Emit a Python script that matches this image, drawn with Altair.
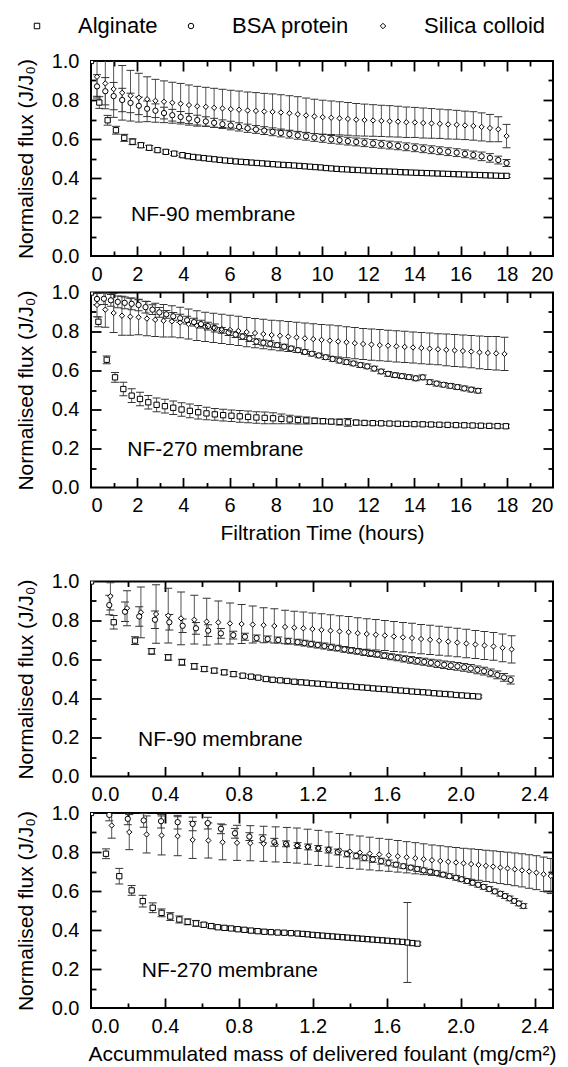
import altair as alt
import pandas as pd

FONT = "Liberation Sans"
W, H = 462, 195

SERIES = ["Alginate", "BSA protein", "Silica colloid"]
SHAPES = ["square", "circle", "diamond"]
MSIZE = 28

TIME_MAJOR = [0, 2, 4, 6, 8, 10, 12, 14, 16, 18, 20]
TIME_TICKS = [1, 2, 3, 4, 5, 6, 7, 8, 9, 10, 11, 12, 13, 14, 15, 16, 17, 18, 19]
MASS_MAJOR = [0.0, 0.4, 0.8, 1.2, 1.6, 2.0, 2.4]
MASS_TICKS = [0.2, 0.4, 0.6, 0.8, 1.0, 1.2, 1.4, 1.6, 1.8, 2.0, 2.2, 2.4]
Y_MAJOR = [0.0, 0.2, 0.4, 0.6, 0.8, 1.0]
Y_TICKS = [0.1, 0.2, 0.3, 0.4, 0.5, 0.6, 0.7, 0.8, 0.9]

ann_text = ["NF-90 membrane", "NF-270 membrane", "NF-90 membrane", "NF-270 membrane"]
ann_x = [1.73, 1.57, 0.255, 0.275]
ann_y = [0.21, 0.19, 0.185, 0.19]

# ---------------- Panel 1: NF-90, filtration time ----------------
p1_alg_x = [0, 0.36, 0.72, 1.08, 1.44, 1.80, 2.16, 2.52, 2.88, 3.24, 3.60, 3.96,
            4.19, 4.42, 4.65, 4.88, 5.11, 5.34, 5.57, 5.80, 6.03, 6.26,
            6.49, 6.72, 6.95, 7.18, 7.41, 7.64, 7.87, 8.10, 8.33, 8.56,
            8.79, 9.02, 9.25, 9.48, 9.71, 9.94, 10.17, 10.40, 10.63, 10.86,
            11.09, 11.32, 11.55, 11.78, 12.01, 12.24, 12.47, 12.70, 12.93, 13.16,
            13.39, 13.62, 13.85, 14.08, 14.31, 14.54, 14.77, 15.00, 15.23, 15.46,
            15.69, 15.92, 16.15, 16.38, 16.61, 16.84, 17.07, 17.30, 17.53, 17.76,
            17.99]
p1_alg_y = [1.0, 0.787, 0.696, 0.645, 0.606, 0.586, 0.568, 0.555, 0.543, 0.534, 0.525, 0.517,
            0.512, 0.508, 0.505, 0.502, 0.499, 0.496, 0.493, 0.490, 0.488, 0.485,
            0.483, 0.481, 0.479, 0.477, 0.475, 0.473, 0.471, 0.469, 0.467, 0.466,
            0.464, 0.462, 0.460, 0.458, 0.456, 0.454, 0.451, 0.449, 0.447, 0.445,
            0.444, 0.442, 0.441, 0.439, 0.438, 0.436, 0.435, 0.434, 0.433, 0.432,
            0.430, 0.429, 0.428, 0.427, 0.426, 0.425, 0.424, 0.423, 0.422, 0.421,
            0.420, 0.419, 0.418, 0.417, 0.416, 0.415, 0.414, 0.413, 0.412, 0.411,
            0.411]
p1_alg_e = [0.0, 0.03, 0.025, 0.02, 0.018, 0.015, 0.012, 0.012, 0.01, 0.01, 0.01, 0.01,
            0.009, 0.009, 0.009, 0.009, 0.009, 0.008, 0.008, 0.008, 0.008, 0.008,
            0.008, 0.008, 0.008, 0.008, 0.008, 0.008, 0.008, 0.008, 0.008, 0.008,
            0.008, 0.008, 0.008, 0.008, 0.008, 0.008, 0.008, 0.008, 0.008, 0.008,
            0.008, 0.008, 0.008, 0.008, 0.008, 0.008, 0.008, 0.008, 0.008, 0.008,
            0.008, 0.008, 0.008, 0.008, 0.008, 0.008, 0.008, 0.008, 0.008, 0.008,
            0.008, 0.008, 0.008, 0.008, 0.008, 0.008, 0.008, 0.008, 0.008, 0.008,
            0.008]

p1_grid = [0.26, 0.62, 0.98, 1.35, 1.71, 2.07, 2.43, 2.79, 3.16, 3.52,
           3.88, 4.24, 4.60, 4.97, 5.33, 5.69, 6.05, 6.41, 6.78, 7.14,
           7.50, 7.86, 8.22, 8.59, 8.95, 9.31, 9.67, 10.03, 10.40, 10.76,
           11.12, 11.48, 11.84, 12.21, 12.57, 12.93, 13.29, 13.65, 14.02, 14.38,
           14.74, 15.10, 15.46, 15.83, 16.19, 16.55, 16.91, 17.27, 17.63, 17.99]
p1_bsa_y = [0.870, 0.845, 0.820, 0.800, 0.785, 0.770, 0.755, 0.745, 0.733, 0.722,
            0.713, 0.705, 0.697, 0.690, 0.683, 0.676, 0.669, 0.662, 0.655, 0.649,
            0.643, 0.637, 0.631, 0.625, 0.619, 0.614, 0.608, 0.603, 0.598, 0.594,
            0.589, 0.585, 0.581, 0.577, 0.573, 0.569, 0.565, 0.560, 0.555, 0.550,
            0.545, 0.540, 0.535, 0.530, 0.524, 0.518, 0.511, 0.503, 0.492, 0.477]
p1_bsa_e = [0.06, 0.07, 0.07, 0.06, 0.05, 0.045, 0.04, 0.035, 0.03, 0.03,
            0.028, 0.026, 0.025, 0.024, 0.023, 0.022, 0.022, 0.021, 0.021, 0.02,
            0.02, 0.02, 0.02, 0.02, 0.02, 0.02, 0.02, 0.02, 0.02, 0.02,
            0.02, 0.02, 0.02, 0.02, 0.02, 0.02, 0.02, 0.02, 0.02, 0.02,
            0.02, 0.02, 0.02, 0.02, 0.02, 0.02, 0.022, 0.022, 0.02, 0.018]
p1_sil_y = [0.919, 0.885, 0.856, 0.837, 0.822, 0.812, 0.804, 0.796, 0.791, 0.786,
            0.781, 0.774, 0.768, 0.765, 0.760, 0.757, 0.753, 0.750, 0.746, 0.744,
            0.741, 0.739, 0.736, 0.732, 0.727, 0.721, 0.716, 0.712, 0.709, 0.706,
            0.703, 0.699, 0.697, 0.695, 0.693, 0.691, 0.689, 0.686, 0.685, 0.682,
            0.680, 0.678, 0.675, 0.673, 0.670, 0.667, 0.662, 0.656, 0.650, 0.615]
p1_sil_e = [0.10, 0.13, 0.145, 0.14, 0.13, 0.125, 0.115, 0.11, 0.107, 0.105,
            0.104, 0.103, 0.102, 0.10, 0.10, 0.098, 0.097, 0.096, 0.095, 0.094,
            0.093, 0.092, 0.091, 0.09, 0.09, 0.089, 0.088, 0.087, 0.086, 0.085,
            0.084, 0.083, 0.082, 0.081, 0.08, 0.08, 0.079, 0.078, 0.077, 0.077,
            0.076, 0.075, 0.075, 0.074, 0.073, 0.073, 0.072, 0.07, 0.064, 0.06]

# ---------------- Panel 2: NF-270, filtration time ----------------
p2_alg_x = [0, 0.32, 0.68, 1.04, 1.40, 1.76, 2.12, 2.48, 2.84, 3.20, 3.56,
            3.92, 4.28, 4.64, 5.00, 5.36, 5.72, 6.08, 6.44, 6.80, 7.16,
            7.52, 7.88, 8.24, 8.60, 8.96, 9.32, 9.68, 10.04, 10.40, 10.76,
            11.12, 11.48, 11.84, 12.20, 12.56, 12.92, 13.28, 13.64, 14.00, 14.36,
            14.72, 15.08, 15.44, 15.80, 16.16, 16.52, 16.88, 17.24, 17.60, 17.96]
p2_alg_y = [1.0, 0.850, 0.655, 0.565, 0.505, 0.471, 0.454, 0.437, 0.424, 0.417, 0.409,
            0.400, 0.393, 0.386, 0.380, 0.375, 0.371, 0.368, 0.365, 0.362, 0.359,
            0.357, 0.355, 0.352, 0.349, 0.346, 0.344, 0.342, 0.340, 0.338, 0.336,
            0.334, 0.333, 0.331, 0.330, 0.329, 0.328, 0.327, 0.326, 0.325, 0.324,
            0.323, 0.322, 0.321, 0.320, 0.319, 0.318, 0.317, 0.316, 0.315, 0.314]
p2_alg_e = [0.0, 0.025, 0.02, 0.025, 0.035, 0.035, 0.035, 0.035, 0.035, 0.035, 0.035,
            0.035, 0.035, 0.035, 0.032, 0.03, 0.03, 0.03, 0.03, 0.03, 0.03,
            0.03, 0.028, 0.025, 0.022, 0.02, 0.018, 0.015, 0.013, 0.012, 0.015,
            0.02, 0.012, 0.01, 0.01, 0.01, 0.01, 0.01, 0.01, 0.01, 0.01,
            0.01, 0.01, 0.01, 0.01, 0.01, 0.01, 0.01, 0.01, 0.01, 0.01]

p2_bsa_x = [0.26, 0.56, 0.86, 1.16, 1.46, 1.76, 2.06, 2.36, 2.66, 2.96,
            3.26, 3.56, 3.86, 4.16, 4.46, 4.76, 5.06, 5.36, 5.66, 5.96,
            6.26, 6.56, 6.86, 7.16, 7.46, 7.76, 8.06, 8.36, 8.66, 8.96,
            9.26, 9.56, 9.86, 10.16, 10.46, 10.76, 11.06, 11.36, 11.66, 11.96,
            12.26, 12.56, 12.86, 13.16, 13.46, 13.76, 14.06, 14.36, 14.66, 14.96,
            15.26, 15.56, 15.86, 16.16, 16.46, 16.76]
p2_bsa_y = [0.967, 0.968, 0.960, 0.952, 0.947, 0.942, 0.936, 0.925, 0.912, 0.898,
            0.888, 0.878, 0.868, 0.858, 0.848, 0.838, 0.828, 0.818, 0.806, 0.795,
            0.784, 0.774, 0.764, 0.748, 0.742, 0.737, 0.730, 0.722, 0.713, 0.704,
            0.695, 0.686, 0.677, 0.668, 0.659, 0.651, 0.643, 0.636, 0.628, 0.621,
            0.610, 0.595, 0.583, 0.576, 0.571, 0.566, 0.560, 0.565, 0.540, 0.533,
            0.527, 0.521, 0.515, 0.508, 0.502, 0.496]
p2_bsa_e = [0.03, 0.03, 0.03, 0.03, 0.03, 0.03, 0.03, 0.03, 0.025, 0.025,
            0.02, 0.02, 0.02, 0.02, 0.02, 0.02, 0.02, 0.02, 0.015, 0.015,
            0.015, 0.015, 0.015, 0.015, 0.015, 0.015, 0.012, 0.012, 0.012, 0.012,
            0.012, 0.012, 0.012, 0.012, 0.012, 0.012, 0.012, 0.012, 0.012, 0.012,
            0.012, 0.012, 0.012, 0.012, 0.012, 0.012, 0.012, 0.012, 0.012, 0.012,
            0.012, 0.012, 0.012, 0.012, 0.012, 0.012]

p2_sil_x = [0.26, 0.62, 0.98, 1.34, 1.70, 2.06, 2.42, 2.78, 3.14, 3.50,
            3.86, 4.22, 4.58, 4.94, 5.30, 5.66, 6.02, 6.38, 6.74, 7.10,
            7.46, 7.82, 8.18, 8.54, 8.90, 9.26, 9.62, 9.98, 10.34, 10.70,
            11.06, 11.42, 11.78, 12.14, 12.50, 12.86, 13.22, 13.58, 13.94, 14.30,
            14.66, 15.02, 15.38, 15.74, 16.10, 16.46, 16.82, 17.18, 17.54, 17.90]
p2_sil_y = [0.936, 0.912, 0.895, 0.881, 0.876, 0.873, 0.866, 0.860, 0.855, 0.852,
            0.846, 0.838, 0.830, 0.824, 0.819, 0.813, 0.808, 0.803, 0.797, 0.792,
            0.787, 0.782, 0.778, 0.774, 0.770, 0.765, 0.761, 0.757, 0.753, 0.749,
            0.745, 0.740, 0.736, 0.733, 0.730, 0.727, 0.724, 0.721, 0.718, 0.715,
            0.712, 0.709, 0.706, 0.703, 0.700, 0.697, 0.693, 0.690, 0.688, 0.685]
p2_sil_e = [0.06, 0.09, 0.10, 0.10, 0.095, 0.09, 0.088, 0.085, 0.083, 0.08,
            0.078, 0.077, 0.076, 0.075, 0.075, 0.075, 0.075, 0.075, 0.075, 0.075,
            0.076, 0.076, 0.077, 0.077, 0.078, 0.078, 0.079, 0.079, 0.08, 0.08,
            0.08, 0.08, 0.08, 0.08, 0.08, 0.08, 0.08, 0.08, 0.08, 0.08,
            0.08, 0.08, 0.081, 0.082, 0.082, 0.083, 0.084, 0.085, 0.086, 0.085]

# ---------------- Panel 3: NF-90, accumulated mass ----------------
p3_alg_x = [0, 0.123, 0.238, 0.328, 0.418, 0.492, 0.559, 0.613, 0.667, 0.721, 0.771,
            0.821, 0.866, 0.905, 0.947, 0.983, 1.024, 1.061, 1.100, 1.136,
            1.166, 1.196, 1.226, 1.256, 1.286, 1.316, 1.346, 1.376, 1.406, 1.436,
            1.466, 1.496, 1.526, 1.556, 1.586, 1.616, 1.646, 1.676, 1.706, 1.736,
            1.766, 1.796, 1.826, 1.856, 1.886, 1.916, 1.946, 1.976, 2.006, 2.036,
            2.066, 2.096]
p3_alg_y = [1.0, 0.791, 0.697, 0.642, 0.611, 0.586, 0.565, 0.551, 0.543, 0.534, 0.525,
            0.517, 0.512, 0.507, 0.500, 0.496, 0.493, 0.490, 0.486, 0.483,
            0.481, 0.478, 0.476, 0.474, 0.471, 0.469, 0.466, 0.464, 0.462, 0.459,
            0.457, 0.455, 0.452, 0.450, 0.448, 0.446, 0.443, 0.441, 0.439, 0.436,
            0.434, 0.432, 0.430, 0.427, 0.425, 0.423, 0.421, 0.418, 0.416, 0.414,
            0.412, 0.410]
p3_alg_e = [0.0, 0.035, 0.02, 0.015, 0.015, 0.015, 0.015, 0.013, 0.012, 0.012, 0.012,
            0.01, 0.01, 0.01, 0.01, 0.01, 0.01, 0.01, 0.01, 0.01,
            0.008, 0.008, 0.008, 0.008, 0.008, 0.008, 0.008, 0.008, 0.008, 0.008,
            0.008, 0.008, 0.008, 0.008, 0.008, 0.008, 0.008, 0.008, 0.008, 0.008,
            0.008, 0.008, 0.008, 0.008, 0.008, 0.008, 0.008, 0.008, 0.008, 0.008,
            0.008, 0.008]

p3_bsa_x = [0.099, 0.184, 0.261, 0.346, 0.424, 0.496, 0.568, 0.634, 0.703, 0.770,
            0.833, 0.896, 0.956, 1.013, 1.067, 1.118,
            1.155, 1.191, 1.227, 1.263, 1.299, 1.335, 1.371, 1.407, 1.443, 1.479,
            1.515, 1.551, 1.587, 1.623, 1.659, 1.695, 1.731, 1.767, 1.803, 1.839,
            1.875, 1.911, 1.947, 1.983, 2.019, 2.055, 2.091, 2.127, 2.163, 2.199,
            2.235, 2.271]
p3_bsa_y = [0.879, 0.845, 0.821, 0.804, 0.791, 0.773, 0.760, 0.748, 0.734, 0.725,
            0.717, 0.710, 0.705, 0.700, 0.694, 0.689,
            0.684, 0.679, 0.674, 0.669, 0.663, 0.658, 0.652, 0.647, 0.642, 0.636,
            0.631, 0.626, 0.620, 0.614, 0.609, 0.603, 0.598, 0.593, 0.588, 0.583,
            0.578, 0.573, 0.569, 0.565, 0.560, 0.554, 0.547, 0.540, 0.531, 0.521,
            0.508, 0.495]
p3_bsa_e = [0.05, 0.05, 0.05, 0.045, 0.04, 0.035, 0.03, 0.03, 0.025, 0.02,
            0.018, 0.016, 0.015, 0.015, 0.015, 0.015,
            0.015, 0.015, 0.015, 0.015, 0.015, 0.015, 0.015, 0.015, 0.015, 0.015,
            0.015, 0.015, 0.015, 0.015, 0.016, 0.016, 0.017, 0.017, 0.018, 0.018,
            0.019, 0.019, 0.02, 0.02, 0.02, 0.02, 0.02, 0.02, 0.02, 0.02,
            0.02, 0.02]

p3_sil_x = [0.105, 0.195, 0.270, 0.352, 0.418, 0.487, 0.559, 0.626, 0.689, 0.752,
            0.815, 0.875, 0.934, 0.992, 1.050, 1.100,
            1.149, 1.198, 1.247, 1.296, 1.345, 1.394, 1.443, 1.492, 1.541, 1.590,
            1.639, 1.688, 1.737, 1.786, 1.835, 1.884, 1.933, 1.982, 2.031, 2.080,
            2.129, 2.178, 2.227, 2.276]
p3_sil_y = [0.924, 0.863, 0.842, 0.833, 0.825, 0.811, 0.804, 0.794, 0.790, 0.785,
            0.782, 0.779, 0.776, 0.772, 0.767, 0.763,
            0.760, 0.756, 0.752, 0.748, 0.744, 0.740, 0.735, 0.731, 0.727, 0.723,
            0.718, 0.714, 0.710, 0.705, 0.701, 0.696, 0.692, 0.687, 0.682, 0.677,
            0.672, 0.667, 0.660, 0.652]
p3_sil_e = [0.07, 0.09, 0.13, 0.15, 0.14, 0.135, 0.125, 0.12, 0.11, 0.105,
            0.10, 0.095, 0.09, 0.088, 0.086, 0.084,
            0.083, 0.082, 0.082, 0.081, 0.080, 0.080, 0.079, 0.078, 0.078, 0.077,
            0.077, 0.076, 0.076, 0.075, 0.075, 0.074, 0.074, 0.073, 0.073, 0.072,
            0.072, 0.071, 0.071, 0.07]

# ---------------- Panel 4: NF-270, accumulated mass ----------------
p4_alg_x = [0, 0.081, 0.153, 0.220, 0.280, 0.334, 0.382, 0.429, 0.478, 0.523, 0.568,
            0.610, 0.650, 0.686, 0.722, 0.758, 0.794, 0.830, 0.866, 0.902, 0.938,
            0.974, 1.010, 1.046, 1.082, 1.118,
            1.145, 1.172, 1.199, 1.226, 1.253, 1.280, 1.307, 1.334, 1.361, 1.388,
            1.415, 1.442, 1.469, 1.496, 1.523, 1.550, 1.577, 1.604, 1.631, 1.658,
            1.685, 1.712, 1.739, 1.766]
p4_alg_y = [1.0, 0.791, 0.676, 0.603, 0.548, 0.514, 0.488, 0.469, 0.454, 0.442, 0.434,
            0.427, 0.420, 0.414, 0.411, 0.408, 0.404, 0.401, 0.397, 0.394, 0.391,
            0.389, 0.387, 0.386, 0.384, 0.382,
            0.380, 0.378, 0.375, 0.373, 0.371, 0.369, 0.367, 0.365, 0.363, 0.361,
            0.359, 0.357, 0.355, 0.353, 0.351, 0.349, 0.347, 0.345, 0.343, 0.341,
            0.339, 0.336, 0.333, 0.330]
p4_alg_e = [0.0, 0.025, 0.04, 0.025, 0.03, 0.025, 0.02, 0.02, 0.018, 0.015, 0.015,
            0.012, 0.012, 0.01, 0.01, 0.01, 0.01, 0.01, 0.01, 0.01, 0.01,
            0.008, 0.008, 0.008, 0.008, 0.008,
            0.008, 0.008, 0.008, 0.008, 0.008, 0.008, 0.008, 0.008, 0.008, 0.008,
            0.008, 0.008, 0.008, 0.008, 0.008, 0.008, 0.008, 0.008, 0.008, 0.008,
            0.008, 0.205, 0.008, 0.008]

p4_bsa_x = [0.099, 0.199, 0.285, 0.379, 0.469, 0.550, 0.632, 0.703, 0.779, 0.857,
            0.929, 0.992, 1.055, 1.118,
            1.175, 1.230, 1.285, 1.335, 1.385, 1.435, 1.480, 1.525, 1.570, 1.610,
            1.650, 1.690, 1.730, 1.765, 1.800, 1.835, 1.870, 1.905, 1.940, 1.975,
            2.005, 2.035, 2.065, 2.095, 2.125, 2.155, 2.185, 2.215, 2.240, 2.265,
            2.290, 2.315, 2.340]
p4_bsa_y = [0.990, 0.970, 0.962, 0.958, 0.953, 0.944, 0.948, 0.919, 0.896, 0.879,
            0.868, 0.850, 0.842, 0.833,
            0.826, 0.818, 0.810, 0.800, 0.790, 0.780, 0.770, 0.762, 0.753, 0.744,
            0.735, 0.727, 0.720, 0.713, 0.706, 0.699, 0.692, 0.684, 0.676, 0.668,
            0.660, 0.651, 0.642, 0.632, 0.621, 0.610, 0.598, 0.586, 0.574, 0.562,
            0.549, 0.536, 0.523]
p4_bsa_e = [0.03, 0.03, 0.035, 0.035, 0.035, 0.035, 0.03, 0.025, 0.025, 0.02,
            0.02, 0.02, 0.015, 0.015,
            0.015, 0.015, 0.015, 0.015, 0.015, 0.015, 0.015, 0.015, 0.015, 0.015,
            0.012, 0.012, 0.012, 0.012, 0.012, 0.012, 0.012, 0.012, 0.012, 0.012,
            0.012, 0.012, 0.012, 0.012, 0.012, 0.012, 0.012, 0.012, 0.012, 0.012,
            0.012, 0.012, 0.012]

p4_sil_x = [0.112, 0.207, 0.301, 0.382, 0.469, 0.550, 0.635, 0.712, 0.790, 0.862,
            0.934, 0.999, 1.060, 1.114,
            1.172, 1.230, 1.287, 1.345, 1.400, 1.455, 1.508, 1.560, 1.611, 1.660,
            1.708, 1.755, 1.800, 1.845, 1.890, 1.933, 1.975, 2.016, 2.057, 2.097,
            2.137, 2.176, 2.215, 2.254, 2.293, 2.332, 2.371, 2.410, 2.449, 2.488]
p4_sil_y = [0.936, 0.902, 0.890, 0.885, 0.881, 0.862, 0.859, 0.850, 0.847, 0.845,
            0.842, 0.839, 0.836, 0.833,
            0.827, 0.821, 0.815, 0.808, 0.802, 0.797, 0.792, 0.787, 0.783, 0.778,
            0.773, 0.768, 0.763, 0.758, 0.754, 0.750, 0.746, 0.742, 0.738, 0.734,
            0.729, 0.725, 0.720, 0.716, 0.711, 0.706, 0.700, 0.694, 0.686, 0.677]
p4_sil_e = [0.065, 0.09, 0.095, 0.1, 0.1, 0.095, 0.09, 0.09, 0.09, 0.09,
            0.09, 0.09, 0.09, 0.09,
            0.09, 0.09, 0.088, 0.087, 0.086, 0.085, 0.084, 0.083, 0.082, 0.081,
            0.08, 0.08, 0.079, 0.078, 0.078, 0.077, 0.077, 0.077, 0.078, 0.079,
            0.08, 0.081, 0.082, 0.083, 0.084, 0.085, 0.086, 0.087, 0.088, 0.09]


def mk(xs, ys, es, name):
    return pd.DataFrame({"x": xs, "y": ys, "e": es, "series": name})


SHAPE_SCALE = alt.Scale(domain=SERIES, range=SHAPES)
LEGEND = alt.Legend(orient="none", legendX=-65, legendY=-46, direction="horizontal",
                    title=None, labelFontSize=22, labelFont=FONT, labelColor="black",
                    symbolSize=30, symbolStrokeWidth=1, labelOffset=30, columnPadding=22)

FRAME = alt.ViewBackground(stroke="black", strokeWidth=2)


def tick_axis(orient, values, test, offset):
    return alt.Axis(orient=orient, offset=offset, values=values, labels=False,
                    domain=False, grid=False, title=None, tickColor="black", tickWidth=1.8,
                    tickSize={"condition": {"test": test, "value": 10}, "value": 5})


def panel(frames, xdomain, xmajor, xticks, xfmt, xtest, idx, xtitle=None):
    data = pd.concat(frames, ignore_index=True)
    base = alt.Chart(data).transform_calculate(lo="datum.y - datum.e", hi="datum.y + datum.e")
    xs = alt.Scale(domain=xdomain, nice=False, zero=False)
    ys = alt.Scale(domain=[0, 1], nice=False, zero=False)
    ytest = "round(datum.value * 10) % 2 == 0"

    xkw = dict(orient="bottom", values=xmajor, format=xfmt, ticks=False, tickSize=0,
               domain=False, grid=False, labelPadding=8, labelFontSize=20)
    if xtitle:
        xkw.update(title=xtitle, titlePadding=7, titleFontSize=21)
    else:
        xkw.update(title=None)
    xlab = alt.Axis(**xkw)
    ylab = alt.Axis(orient="left", values=Y_MAJOR, format=".1f", ticks=False, tickSize=0,
                    domain=False, grid=False, labelPadding=12, labelFontSize=20,
                    title="Normalised flux (J/J\u2080)", titlePadding=15, titleFontSize=21)

    rules = base.mark_rule(color="#555555", strokeWidth=1, clip=True).encode(
        x=alt.X("x:Q", scale=xs, axis=tick_axis("top", xticks, xtest, -H)),
        y=alt.Y("lo:Q", scale=ys, axis=tick_axis("right", Y_TICKS, ytest, -W)),
        y2="hi:Q")
    caps_lo = base.mark_tick(orient="horizontal", size=8, thickness=1, color="#333333",
                             opacity=1, clip=True).encode(
        x=alt.X("x:Q", scale=xs, axis=tick_axis("bottom", xticks, xtest, -H)),
        y=alt.Y("lo:Q", scale=ys, axis=tick_axis("left", Y_TICKS, ytest, -W)))
    caps_hi = base.mark_tick(orient="horizontal", size=8, thickness=1, color="#333333",
                             opacity=1, clip=True).encode(
        x=alt.X("x:Q", scale=xs, axis=None),
        y=alt.Y("hi:Q", scale=ys, axis=None))
    unders = []
    for name, shp in zip(SERIES, SHAPES):
        unders.append(
            base.transform_filter(alt.datum.series == name).mark_point(
                shape=shp, filled=True, color="white", size=MSIZE, opacity=1, clip=True).encode(
                x=alt.X("x:Q", scale=xs, axis=None),
                y=alt.Y("y:Q", scale=ys, axis=None)))
    pts = base.mark_point(filled=False, color="black", strokeWidth=1,
                          size=MSIZE, opacity=1, clip=True).encode(
        x=alt.X("x:Q", scale=xs, axis=xlab),
        y=alt.Y("y:Q", scale=ys, axis=ylab),
        shape=alt.Shape("series:N", scale=SHAPE_SCALE, legend=LEGEND))
    ann = pd.DataFrame({"x": [ann_x[idx]], "y": [ann_y[idx]], "t": [ann_text[idx]]})
    text = alt.Chart(ann).mark_text(align="left", baseline="middle", fontSize=21,
                                    font=FONT, color="black").encode(
        x=alt.X("x:Q", scale=xs, axis=None),
        y=alt.Y("y:Q", scale=ys, axis=None),
        text="t:N")
    return alt.layer(rules, caps_lo, caps_hi, *unders, pts, text).resolve_axis(
        x="independent", y="independent").properties(width=W, height=H, view=FRAME)


time_test = "datum.value % 2 == 0"
mass_test = "round(datum.value * 10) % 4 == 0"

p1 = panel([mk(p1_alg_x, p1_alg_y, p1_alg_e, "Alginate"),
            mk(p1_grid, p1_bsa_y, p1_bsa_e, "BSA protein"),
            mk(p1_grid, p1_sil_y, p1_sil_e, "Silica colloid")],
           [0, 20], TIME_MAJOR, TIME_TICKS, "d", time_test, 0)
p2 = panel([mk(p2_alg_x, p2_alg_y, p2_alg_e, "Alginate"),
            mk(p2_bsa_x, p2_bsa_y, p2_bsa_e, "BSA protein"),
            mk(p2_sil_x, p2_sil_y, p2_sil_e, "Silica colloid")],
           [0, 20], TIME_MAJOR, TIME_TICKS, "d", time_test, 1,
           xtitle="Filtration Time (hours)")
p3 = panel([mk(p3_alg_x, p3_alg_y, p3_alg_e, "Alginate"),
            mk(p3_bsa_x, p3_bsa_y, p3_bsa_e, "BSA protein"),
            mk(p3_sil_x, p3_sil_y, p3_sil_e, "Silica colloid")],
           [0, 2.5], MASS_MAJOR, MASS_TICKS, ".1f", mass_test, 2)
p4 = panel([mk(p4_alg_x, p4_alg_y, p4_alg_e, "Alginate"),
            mk(p4_bsa_x, p4_bsa_y, p4_bsa_e, "BSA protein"),
            mk(p4_sil_x, p4_sil_y, p4_sil_e, "Silica colloid")],
           [0, 2.5], MASS_MAJOR, MASS_TICKS, ".1f", mass_test, 3,
           xtitle="Accummulated mass of delivered foulant (mg/cm\u00b2)")

spacer = alt.Chart(pd.DataFrame({"a": [0]})).mark_point(opacity=0).properties(
    width=W, height=21, view=alt.ViewBackground(stroke="transparent"))

chart = alt.vconcat(p1, p2, spacer, p3, p4, spacing=36.5, bounds="flush").properties(
    padding={"left": 6, "top": 7, "right": 0, "bottom": 0}
).configure_view(stroke="black", strokeWidth=2).configure_axis(
    labelFont=FONT, titleFont=FONT, labelColor="black", titleColor="black",
    titleFontWeight="normal")

chart.save("out.html", embed_options={"renderer": "svg", "actions": False})
